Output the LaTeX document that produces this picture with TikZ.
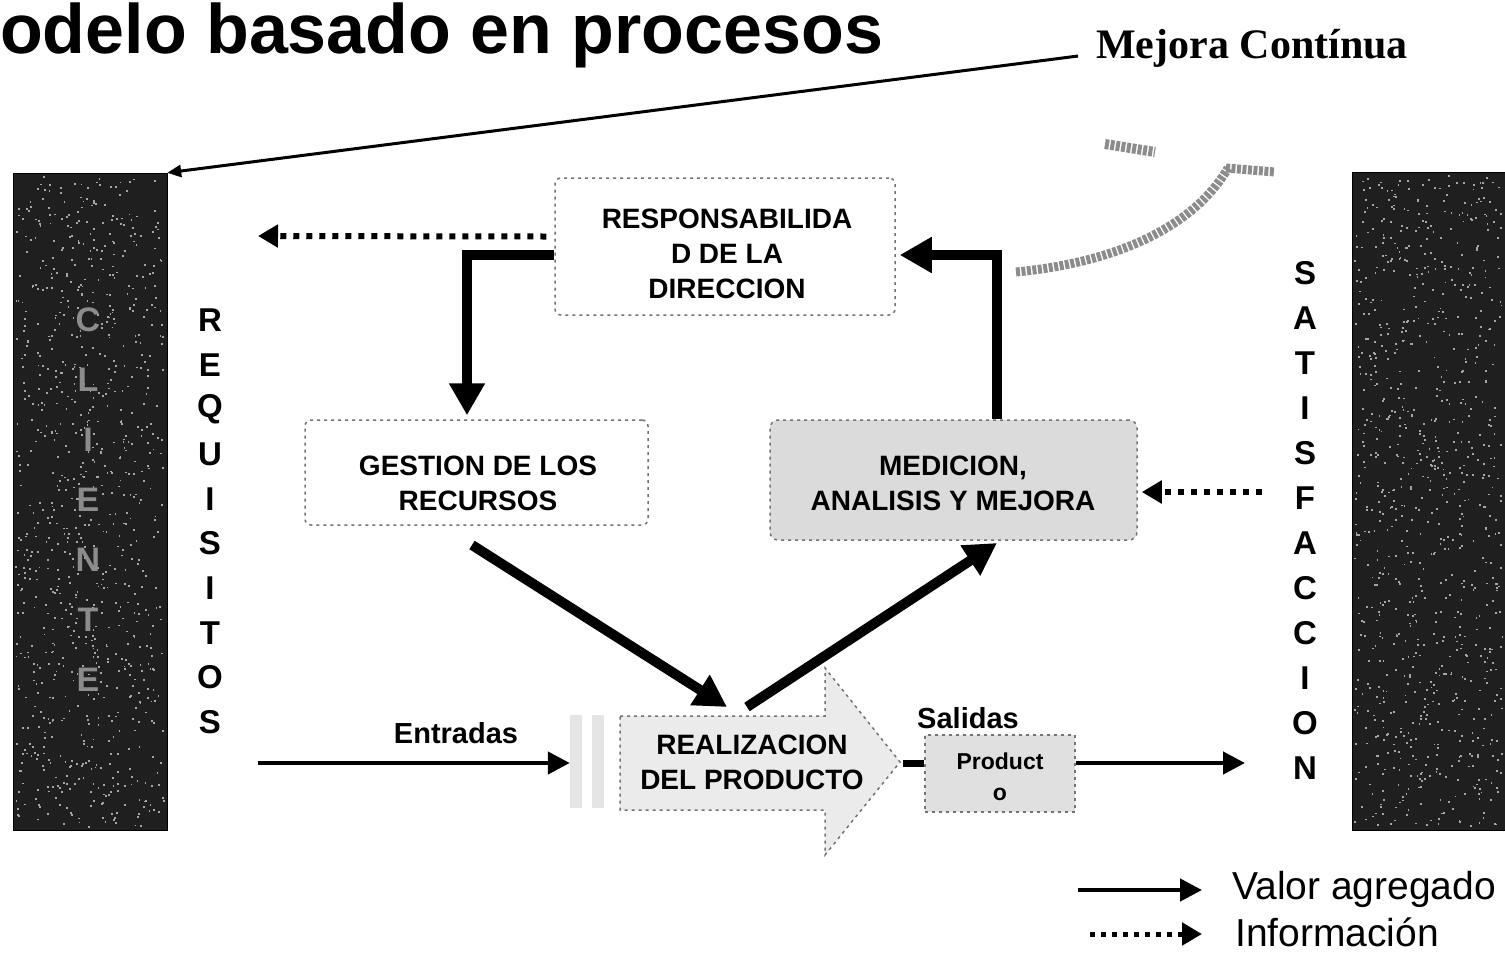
\documentclass[tikz,border=0pt]{standalone}
\usepackage{fontspec}
\setmainfont{Liberation Sans}
\newfontfamily\timesb{Liberation Serif}
\usetikzlibrary{arrows.meta}
\begin{document}
\begin{tikzpicture}[x=1pt,y=-1pt,
 boxtxt/.style={font=\bfseries\fontsize{28}{35}\selectfont, align=center, text=black, inner sep=0pt},
 speckbox/.style={draw=black!55, dash pattern=on 3pt off 4pt, line width=1.5pt, inner sep=0pt},
 darkbar/.style={fill=black!88, draw=black, inner sep=0pt},
 flow/.style={line width=10pt, -{Triangle[length=32pt,width=34pt]}},
 thinflow/.style={line width=4.5pt, -{Triangle[length=22pt,width=22pt]}},
 info/.style={line width=6pt, dash pattern=on 6pt off 7pt, -{Triangle[length=20pt,width=22pt]}},
 vletter/.style={font=\bfseries\fontsize{33}{33}\selectfont, inner sep=0pt},
 cletter/.style={font=\bfseries\fontsize{34}{34}\selectfont, inner sep=0pt, text=black!45},
 lbl/.style={font=\bfseries\fontsize{29}{29}\selectfont, inner sep=0pt},
]
\useasboundingbox (0,0) rectangle (1505,954);

% title
\node[anchor=base west, font=\bfseries\fontsize{70}{70}\selectfont, inner sep=0pt, text height=50pt, text depth=14pt] (title) at (0,53) {odelo basado en procesos};
\node[font=\timesb\bfseries\fontsize{42}{42}\selectfont, inner sep=0pt] (mejora) at (1252,48) {Mejora Contínua};

% dark bars
\node[darkbar, minimum width=154pt, minimum height=657pt] (cli) at (90,501.5) {};
\node[darkbar, minimum width=154pt, minimum height=658pt] (sat) at (1429,501) {};
\pgfmathsetseed{7}
\foreach \k in {1,...,900}{
  \pgfmathsetmacro{\px}{15+148*rnd}
  \pgfmathsetmacro{\py}{176+650*rnd}
  \fill[black!35] (\px,\py) rectangle ++(1.8,1.8);
  \pgfmathsetmacro{\qx}{1354+148*rnd}
  \pgfmathsetmacro{\qy}{175+650*rnd}
  \fill[black!35] (\qx,\qy) rectangle ++(1.8,1.8);
}
\foreach \l [count=\i] in {C,L,I,E,N,T,E}
  \node[cletter] (cl\i) at (88,{320+60*(\i-1)}) {\l};

% vertical words
\foreach \l [count=\i] in {R,E,Q,U,I,S,I,T,O,S}
  \node[vletter] (rq\i) at (210,{320+44.7*(\i-1)}) {\l};
\foreach \l [count=\i] in {S,A,T,I,S,F,A,C,C,I,O,N}
  \node[vletter] (sf\i) at (1305,{273+45*(\i-1)}) {\l};

% mejora continua line
\draw[line width=3pt, -{Triangle[length=14pt,width=12pt]}] ([xshift=-18pt,yshift=-8pt]mejora.west) -- (cli.north east);

% gray curved decoration
\draw[line width=9pt, black!45, dash pattern=on 4pt off 1.5pt] (1016,272) .. controls (1120,262) and (1195,225) .. (1228,168);
\draw[line width=9pt, black!45, dash pattern=on 4pt off 1.5pt] (1226,168) -- (1275,172);
\draw[line width=10pt, black!45, dash pattern=on 4pt off 1.5pt] (1105,144) -- (1155,152);

% boxes
\node[speckbox, minimum width=340pt, minimum height=137pt, rounded corners=6pt] (resp) at (725,246.5) {};
\node[boxtxt] (resptxt) at (727,254) {RESPONSABILIDA\\D DE LA\\DIRECCION};
\node[speckbox, minimum width=343pt, minimum height=105pt, rounded corners=6pt] (gest) at (476.5,472.5) {};
\node[boxtxt] (gesttxt) at (478,483) {GESTION DE LOS\\RECURSOS};
\node[speckbox, fill=black!14, minimum width=367pt, minimum height=120pt, rounded corners=8pt] (med) at (953.5,480) {};
\node[boxtxt] (medtxt) at (953,483) {MEDICION,\\ANALISIS Y MEJORA};

% realization arrow shape
\node[inner sep=0pt, minimum width=330pt, minimum height=187pt] (realbox) at (735,763) {};
\fill[black!10] (570,715) rectangle (582,808);
\fill[black!10] (592,715) rectangle (604,808);
\path[fill=black!8, draw=black!55, dash pattern=on 3pt off 4pt, line width=1.5pt]
  (620,716) -- (825,716) -- (825,668) -- (900,762) -- (825,855) -- (825,810) -- (620,810) -- cycle;
\node[boxtxt] (realtxt) at (752,762) {REALIZACION\\DEL PRODUCTO};

% producto
\node[speckbox, fill=black!12, minimum width=150pt, minimum height=77pt] (prod) at (1000,773.5) {};
\node[font=\bfseries\fontsize{23}{31}\selectfont, align=center, inner sep=0pt] (prodtxt) at (1000,777) {Product\\o};
\node[lbl, font=\bfseries\fontsize{29}{29}\selectfont] (salidas) at (968,718) {Salidas};
\node[lbl] (entradas) at (456,733) {Entradas};

% connectors
\coordinate (reqin) at (258,763);
\coordinate (satout) at (1245,763);
\coordinate (reqinfo) at (258,236);
\coordinate (satinfo) at (1262,492);
\draw[thinflow] (reqin) -- (realbox.west);
\coordinate (tip) at (903,763);
\draw[line width=7pt] (tip) -- ([yshift=10.5pt]prod.west);
\draw[thinflow] ([yshift=10.5pt]prod.east) -- (satout);
\draw[info] ([xshift=-8pt,yshift=10pt]resp.west) -- (reqinfo);
\draw[info] (satinfo) -- ([xshift=4pt,yshift=-12pt]med.east);

\draw[flow] ([yshift=-8.5pt]resp.west) -| ([xshift=-9.5pt,yshift=4pt]gest.north);
\draw[flow] ([xshift=43.5pt]med.north) |- ([xshift=4pt,yshift=-8.5pt]resp.east);
\coordinate (d1s) at (472,545);
\coordinate (d1e) at (727,707);
\coordinate (d2s) at (747,707);
\coordinate (d2e) at (997,543);
\draw[flow] (d1s) -- (d1e);
\draw[flow] (d2s) -- (d2e);

% legend
\coordinate (lg1a) at (1078,890);
\coordinate (lg1b) at (1202,890);
\coordinate (lg2a) at (1090,934);
\coordinate (lg2b) at (1202,934);
\draw[thinflow] (lg1a) -- (lg1b);
\draw[info, line width=5pt, dash pattern=on 5pt off 6pt] (lg2a) -- (lg2b);
\node[anchor=west, font=\fontsize{39}{39}\selectfont, inner sep=0pt] (valor) at (1232,889) {Valor agregado};
\node[anchor=west, font=\fontsize{39}{39}\selectfont, inner sep=0pt] (infor) at (1235,932) {Información};
\end{tikzpicture}
\end{document}
